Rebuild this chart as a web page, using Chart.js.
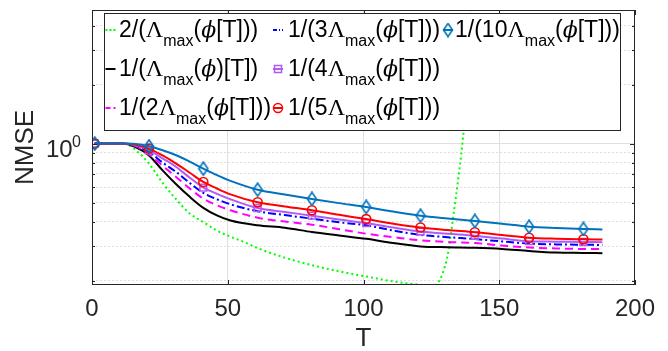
<!DOCTYPE html>
<html>
<head>
<meta charset="utf-8">
<script src="https://cdn.jsdelivr.net/npm/chart.js@4.4.1/dist/chart.umd.min.js"></script>
<style>
    html, body { margin: 0; padding: 0; background: #fff; }
    #chart { display: block; }
</style>
</head>
<body>
<canvas id="chart" width="668" height="351"></canvas>
<script>
// iterations where the curves were sampled
var T = [1, 6, 11, 16, 21, 26, 31, 36, 41, 46, 51, 61, 71, 81, 91, 101, 111, 121, 131, 141, 151, 161, 171, 181, 188];
// NMSE per step size
var nmseL1 = [1, 1, 1, 0.96, 0.87, 0.73, 0.62, 0.535, 0.47, 0.43, 0.405, 0.383, 0.372, 0.354, 0.34, 0.327, 0.311, 0.299, 0.296, 0.294, 0.29, 0.283, 0.278, 0.277, 0.276];
var nmseL2 = [1, 1, 1, 0.97, 0.88, 0.77, 0.676, 0.59, 0.524, 0.485, 0.457, 0.419, 0.4, 0.386, 0.366, 0.347, 0.333, 0.321, 0.315, 0.311, 0.302, 0.295, 0.292, 0.29, 0.29];
var nmseL3 = [1, 1, 1, 0.975, 0.906, 0.8, 0.716, 0.63, 0.56, 0.52, 0.49, 0.452, 0.432, 0.414, 0.397, 0.383, 0.36, 0.342, 0.333, 0.326, 0.317, 0.309, 0.306, 0.305, 0.304];
var nmseL4 = [1, 1, 1, 0.98, 0.925, 0.84, 0.76, 0.67, 0.596, 0.555, 0.52, 0.469, 0.448, 0.429, 0.41, 0.393, 0.373, 0.356, 0.347, 0.339, 0.328, 0.318, 0.316, 0.315, 0.314];
var nmseL5 = [1, 1, 1, 0.985, 0.943, 0.87, 0.79, 0.71, 0.637, 0.59, 0.551, 0.502, 0.478, 0.457, 0.433, 0.412, 0.39, 0.373, 0.362, 0.353, 0.342, 0.331, 0.327, 0.325, 0.324];
var nmseL10 = [1, 1, 1, 0.995, 0.969, 0.925, 0.872, 0.81, 0.745, 0.69, 0.645, 0.582, 0.55, 0.522, 0.497, 0.475, 0.45, 0.429, 0.415, 0.403, 0.39, 0.377, 0.371, 0.367, 0.365];
// the 2/Lambda run diverges, sampled on its own grid
var greenT = [1, 6, 11, 13, 16, 21, 26, 31, 36, 41, 46, 51, 56, 61, 71, 81, 91, 101, 111, 121, 125, 127, 129, 131, 132, 133, 134, 135, 136, 137, 138, 139, 140, 141];
var nmseL2x = [1, 1, 1, 0.99, 0.93, 0.79, 0.63, 0.52, 0.44, 0.398, 0.36, 0.335, 0.315, 0.293, 0.262, 0.24, 0.223, 0.21, 0.198, 0.19, 0.187, 0.192, 0.215, 0.27, 0.33, 0.42, 0.53, 0.68, 0.88, 1.2, 1.75, 2.7, 4.5, 7.5];
var markerT = [1, 21, 41, 61, 81, 101, 121, 141, 161, 181];
var xTicks = [0, 50, 100, 150, 200];
var yTicks = [0.2, 0.3, 0.4, 0.5, 0.6, 0.7, 0.8, 0.9, 1, 2, 3, 4];

var SANS = '"Liberation Sans", Arial, sans-serif';
var INK = '#262626';

function pts(xs, ys) {
    return xs.map(function (x, i) { return { x: x, y: ys[i] }; });
}
function markerRadius(r) {
    return function (ctx) {
        return ctx.raw && markerT.indexOf(ctx.raw.x) >= 0 ? r : 0;
    };
}

// narrow open diamond like matlab's 'd'
function makeDiamond(color) {
    var c = document.createElement('canvas');
    c.width = 12; c.height = 15;
    var g = c.getContext('2d');
    g.strokeStyle = color; g.lineWidth = 1.6;
    g.beginPath();
    g.moveTo(6, 1); g.lineTo(10.5, 7.5); g.lineTo(6, 14); g.lineTo(1.5, 7.5); g.closePath();
    g.stroke();
    return c;
}
var diamond = makeDiamond('#0072bd');

var legendItems = [
    { color: '#00ff00', dash: [2, 2], parts: ['2/(', 'Λ', '_max', '(', 'ϕ', '[T]))'] },
    { color: '#000000', dash: [], parts: ['1/(', 'Λ', '_max', '(', 'ϕ', ')[T])'] },
    { color: '#ff00ff', dash: [5, 3], parts: ['1/(2', 'Λ', '_max', '(', 'ϕ', '[T]))'] },
    { color: '#0000ff', dash: [4, 2, 1, 2], parts: ['1/(3', 'Λ', '_max', '(', 'ϕ', '[T]))'] },
    { color: '#b35af5', dash: [], marker: 'rect', parts: ['1/(4', 'Λ', '_max', '(', 'ϕ', '[T]))'] },
    { color: '#ff0000', dash: [], marker: 'circle', parts: ['1/(5', 'Λ', '_max', '(', 'ϕ', '[T]))'] },
    { color: '#0072bd', dash: [], marker: 'diamond', parts: ['1/(10', 'Λ', '_max', '(', 'ϕ', '[T]))'] }
];

function drawLabel(ctx, parts, x, y) {
    parts.forEach(function (p) {
        var sub = p.charAt(0) === '_';
        var txt = sub ? p.slice(1) : p;
        if (sub) ctx.font = '16px ' + SANS;
        else if (txt === 'Λ') ctx.font = '24px "Liberation Serif", "DejaVu Serif", serif';
        else if (txt === 'ϕ') ctx.font = 'italic 22px "DejaVu Serif", serif';
        else ctx.font = '23px ' + SANS;
        ctx.fillText(txt, x, sub ? y + 9 : y);
        x += ctx.measureText(txt).width;
    });
}

var matlabAxes = {
    id: 'matlabAxes',
    afterDatasetsDraw: function (chart) {
        var ctx = chart.ctx, a = chart.chartArea;
        var xs = chart.scales.x, ys = chart.scales.y;
        ctx.save();
        // box and inward ticks
        ctx.strokeStyle = INK;
        ctx.lineWidth = 1;
        ctx.setLineDash([]);
        ctx.strokeRect(Math.round(a.left) + 0.5, Math.round(a.top) + 0.5,
            Math.round(a.right - a.left) - 1, Math.round(a.bottom - a.top) - 1);
        ctx.beginPath();
        xTicks.forEach(function (t) {
            var px = Math.round(xs.getPixelForValue(t)) + 0.5;
            ctx.moveTo(px, a.bottom); ctx.lineTo(px, a.bottom - 5);
            ctx.moveTo(px, a.top); ctx.lineTo(px, a.top + 5);
        });
        yTicks.forEach(function (v) {
            var py = Math.round(ys.getPixelForValue(v)) + 0.5;
            var len = v === 1 ? 5 : 3;
            ctx.moveTo(a.left, py); ctx.lineTo(a.left + len, py);
            ctx.moveTo(a.right, py); ctx.lineTo(a.right - len, py);
        });
        ctx.stroke();

        // 10^0 tick label
        var y1 = ys.getPixelForValue(1);
        ctx.fillStyle = INK;
        ctx.textBaseline = 'alphabetic';
        ctx.textAlign = 'left';
        ctx.font = '24px ' + SANS;
        ctx.fillText('10', 46, y1 + 13.5);
        ctx.font = '16px ' + SANS;
        ctx.fillText('0', 72, y1 + 3.5);

        // legend
        var box = { l: 104, t: 13, r: 621, b: 131 };
        ctx.fillStyle = '#ffffff';
        ctx.fillRect(box.l, box.t, box.r - box.l, box.b - box.t);
        ctx.strokeStyle = INK;
        ctx.strokeRect(box.l + 0.5, box.t + 0.5, box.r - box.l - 1, box.b - box.t - 1);
        var colText = [119, 288, 455];
        var colMark = [110.5, 278, 448];
        var rowBase = [37, 76, 115];
        legendItems.forEach(function (it, i) {
            var col = Math.floor(i / 3), row = i % 3;
            var cx = colMark[col], cy = rowBase[row] - 7;
            ctx.strokeStyle = it.color;
            ctx.lineWidth = 2;
            ctx.setLineDash(it.dash);
            ctx.beginPath();
            ctx.moveTo(cx - 5, cy); ctx.lineTo(cx + 5, cy);
            ctx.stroke();
            ctx.setLineDash([]);
            ctx.lineWidth = 1.5;
            if (it.marker === 'rect') {
                ctx.strokeRect(cx - 3.5, cy - 3.5, 7, 7);
            } else if (it.marker === 'circle') {
                ctx.beginPath(); ctx.arc(cx, cy, 4.5, 0, Math.PI * 2); ctx.stroke();
            } else if (it.marker === 'diamond') {
                ctx.drawImage(diamond, cx - 6, cy - 7.5);
            }
            ctx.fillStyle = '#000000';
            drawLabel(ctx, it.parts, colText[col], rowBase[row]);
        });
        ctx.restore();
    }
};

function lineSet(label, xs, ys, color, dash, order, extra) {
    var ds = {
        label: label,
        data: pts(xs, ys),
        borderColor: color,
        borderWidth: 2,
        borderDash: dash,
        fill: false,
        cubicInterpolationMode: 'monotone',
        pointRadius: 0,
        pointBorderColor: color,
        pointBackgroundColor: 'rgba(0,0,0,0)',
        pointBorderWidth: 1.6,
        order: order
    };
    for (var k in extra) ds[k] = extra[k];
    return ds;
}

var datasets = [
    lineSet('1/(10Λmax(ϕ[T]))', T, nmseL10, '#0072bd', [], 1, { pointStyle: diamond, pointRadius: markerRadius(6) }),
    lineSet('1/(5Λmax(ϕ[T]))', T, nmseL5, '#ff0000', [], 2, { pointStyle: 'circle', pointRadius: markerRadius(4.5) }),
    lineSet('1/(4Λmax(ϕ[T]))', T, nmseL4, '#b35af5', [], 3, { pointStyle: 'rect', pointRadius: markerRadius(4.8) }),
    lineSet('1/(3Λmax(ϕ[T]))', T, nmseL3, '#0000ff', [8, 3, 2, 3], 4, {}),
    lineSet('1/(2Λmax(ϕ[T]))', T, nmseL2, '#ff00ff', [8, 5], 5, {}),
    lineSet('1/(Λmax(ϕ)[T])', T, nmseL1, '#000000', [], 6, {}),
    lineSet('2/(Λmax(ϕ[T]))', greenT, nmseL2x, '#00ff00', [2, 3], 7, {})
];

new Chart(document.getElementById('chart'), {
    type: 'line',
    data: { datasets: datasets },
    options: {
        responsive: false,
        animation: false,
        devicePixelRatio: 1,
        layout: { padding: { left: 0, right: 33, top: 10, bottom: 0 } },
        plugins: { legend: { display: false }, tooltip: { enabled: false } },
        scales: {
            x: {
                type: 'linear',
                min: 0, max: 200,
                afterBuildTicks: function (s) { s.ticks = xTicks.map(function (v) { return { value: v }; }); },
                afterFit: function (s) { s.height = 66; },
                grid: {
                    drawTicks: false,
                    color: function (c) { return c.tick && (c.tick.value === 0 || c.tick.value === 200) ? 'rgba(0,0,0,0)' : '#dfdfdf'; }
                },
                border: { display: false },
                ticks: { color: INK, font: { family: SANS, size: 24 }, padding: 10, maxRotation: 0 },
                title: { display: true, text: 'T', color: INK, font: { family: SANS, size: 26, lineHeight: 0.9 }, padding: { top: 0, bottom: 0 } }
            },
            y: {
                type: 'logarithmic',
                min: 0.19, max: 4.8,
                afterBuildTicks: function (s) { s.ticks = yTicks.map(function (v) { return { value: v }; }); },
                afterFit: function (s) { s.width = 92; },
                grid: { drawTicks: false, color: '#dfdfdf' },
                border: {
                    display: false,
                    dash: function (c) { return c.tick && c.tick.value !== 1 ? [2, 2] : []; }
                },
                ticks: { display: false },
                title: { display: true, text: 'NMSE', color: INK, font: { family: SANS, size: 26 }, padding: { top: 10, bottom: 0 } }
            }
        }
    },
    plugins: [matlabAxes]
});
</script>
</body>
</html>
